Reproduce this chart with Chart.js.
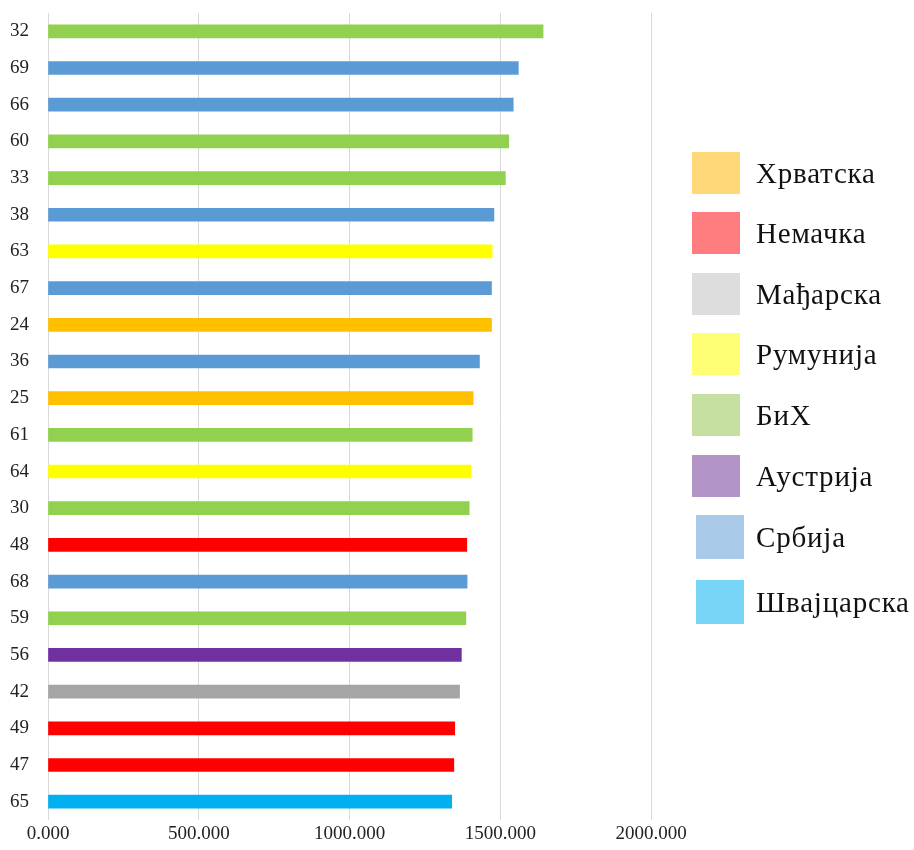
<!DOCTYPE html>
<html>
<head>
<meta charset="utf-8">
<script src="https://cdn.jsdelivr.net/npm/chart.js@4"></script>
<style>
  body { margin: 0; background: #fff; }
  #wrap { position: relative; width: 914px; height: 850px; }
  #chartBox { position: absolute; left: 0; top: 0; width: 700px; height: 850px; }
  #legend { position: absolute; left: 692px; top: 0; font-family: "Liberation Serif", "Times New Roman", serif; font-size: 29px; letter-spacing: 0.8px; color: #111; }
  .item { position: absolute; left: 0; display: flex; align-items: center; white-space: nowrap; }
  .box { width: 48px; height: 42px; margin-right: 16px; }
</style>
</head>
<body>
<div id="wrap">
  <div id="chartBox"><canvas id="myChart"></canvas></div>
  <div id="legend"></div>
</div>
<script>
// categorias (de cima para baixo)
const labels = ["32", "69", "66", "60", "33", "38", "63", "67", "24", "36", "25",
  "61", "64", "30", "48", "68", "59", "56", "42", "49", "47", "65"];

const values = [1642, 1560, 1543, 1528, 1517, 1479, 1473, 1471, 1471, 1431, 1410,
  1407, 1403, 1397, 1389, 1390, 1386, 1371, 1365, 1349, 1346, 1339];

// país de cada barra
const countryOf = ["БиХ", "Србија", "Србија", "БиХ", "БиХ", "Србија", "Румунија", "Србија",
  "Хрватска", "Србија", "Хрватска", "БиХ", "Румунија", "БиХ", "Немачка", "Србија", "БиХ",
  "Аустрија", "Мађарска", "Немачка", "Немачка", "Швајцарска"];

const countries = ["Хрватска", "Немачка", "Мађарска", "Румунија", "БиХ", "Аустрија", "Србија", "Швајцарска"];
const barColors = ["#FFC000", "#FF0000", "#A5A5A5", "#FFFF00", "#92D050", "#7030A0", "#5B9BD5", "#00B0F0"];
const legendColors = ["#FFD979", "#FF7C80", "#DDDDDD", "#FFFF75", "#C5E0A0", "#B294C7", "#A9C9E8", "#77D5F7"];

const xTicks = [0, 500, 1000, 1500, 2000];

const serif = "'Liberation Serif', 'Times New Roman', serif";

const ctx = document.getElementById("myChart").getContext("2d");

const myChart = new Chart(ctx, {
  type: "bar",
  data: {
    labels: labels,
    datasets: [{
      data: values,
      backgroundColor: countryOf.map(c => barColors[countries.indexOf(c)]),
      barThickness: 13,
    }],
  },
  options: {
    indexAxis: "y",
    animation: false,
    responsive: true,
    maintainAspectRatio: false,
    layout: { padding: { top: 13, right: 49, left: 0, bottom: 0 } },
    scales: {
      x: {
        min: 0,
        max: 2000,
        afterBuildTicks: (scale) => { scale.ticks = xTicks.map(v => ({ value: v })); },
        afterFit: (scale) => { scale.height = 30; scale.paddingLeft = 0; scale.paddingRight = 0; },
        ticks: {
          color: "#222",
          padding: 3,
          font: { family: serif, size: 19 },
          callback: (v) => Number(v).toFixed(3),
        },
        grid: { color: "#D9D9D9", lineWidth: 1, drawTicks: false },
        border: { display: false },
      },
      y: {
        afterFit: (scale) => { scale.width = 48; scale.paddingTop = 0; scale.paddingBottom = 0; },
        ticks: {
          color: "#222",
          padding: 19,
          font: { family: serif, size: 19 },
        },
        grid: { display: false, drawTicks: false },
        border: { display: false },
      },
    },
    plugins: {
      legend: { display: false },
      tooltip: { enabled: false },
    },
  },
});

// legenda à direita
const legendTops = [152, 212, 273, 333, 394, 455, 515, 580];
const legend = document.getElementById("legend");
countries.forEach((name, i) => {
  const item = document.createElement("div");
  item.className = "item";
  item.style.top = legendTops[i] + "px";
  const box = document.createElement("div");
  box.className = "box";
  box.style.background = legendColors[i];
  if (i >= 6) { box.style.marginLeft = "4px"; box.style.marginRight = "12px"; box.style.height = "44px"; }
  item.appendChild(box);
  item.appendChild(document.createTextNode(name));
  legend.appendChild(item);
});
</script>
</body>
</html>
